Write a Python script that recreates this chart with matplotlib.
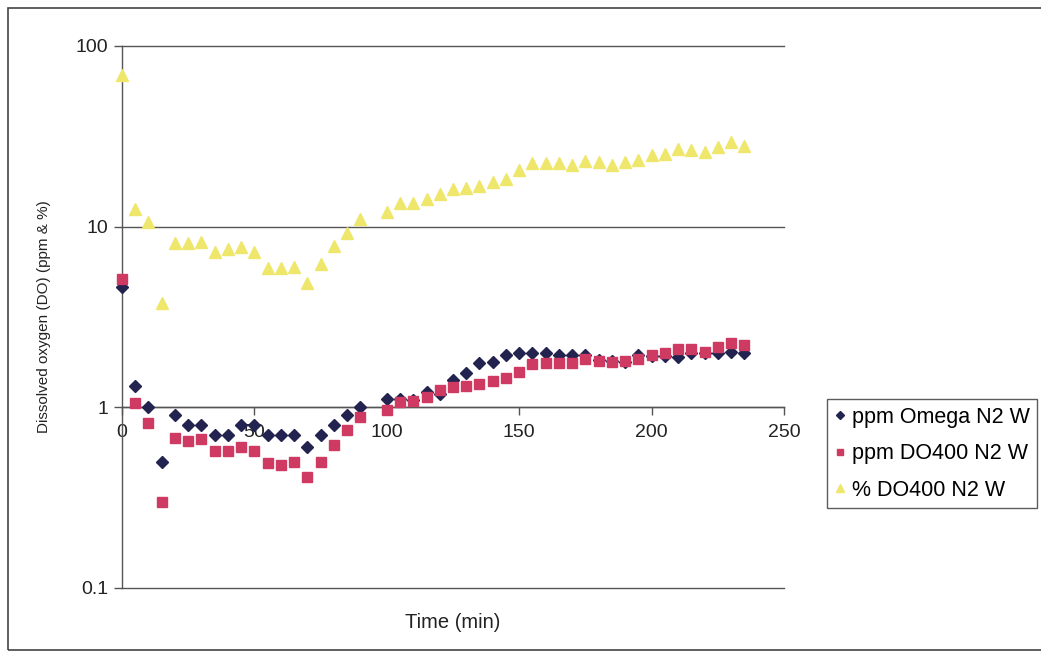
import matplotlib.pyplot as plt
import matplotlib.ticker as mticker
from matplotlib.patches import Rectangle

plt.rcParams['font.family'] = ['Liberation Sans', 'DejaVu Sans']

# time (min) - no reading at 95
time_min = [0, 5, 10, 15, 20, 25, 30, 35, 40, 45, 50, 55, 60, 65, 70, 75, 80, 85, 90,
            100, 105, 110, 115, 120, 125, 130, 135, 140, 145,
            150, 155, 160, 165, 170, 175, 180, 185, 190, 195,
            200, 205, 210, 215, 220, 225, 230, 235]

ppm_omega = [4.64, 1.31, 1.01, 0.50, 0.91, 0.80, 0.80, 0.70, 0.70, 0.80, 0.80, 0.70, 0.70, 0.70, 0.60, 0.70, 0.80, 0.91, 1.01,
             1.11, 1.11, 1.10, 1.22, 1.18, 1.42, 1.55, 1.76, 1.78, 1.94,
             2.01, 2.01, 2.01, 1.96, 1.96, 1.96, 1.82, 1.80, 1.78, 1.96,
             1.92, 1.92, 1.90, 1.99, 1.99, 1.99, 2.02, 1.99]

ppm_do400 = [5.16, 1.06, 0.82, 0.30, 0.68, 0.65, 0.67, 0.57, 0.57, 0.60, 0.57, 0.49, 0.48, 0.50, 0.41, 0.50, 0.62, 0.75, 0.88,
             0.97, 1.07, 1.08, 1.14, 1.24, 1.30, 1.32, 1.35, 1.40, 1.46,
             1.57, 1.73, 1.76, 1.75, 1.76, 1.84, 1.80, 1.78, 1.80, 1.84,
             1.96, 2.00, 2.09, 2.09, 2.03, 2.16, 2.27, 2.20]

pct_do400 = [69, 12.5, 10.6, 3.76, 8.1, 8.1, 8.2, 7.2, 7.5, 7.7, 7.2, 5.9, 5.9, 6.0, 4.9, 6.25, 7.8, 9.2, 11.0,
             12.1, 13.5, 13.5, 14.2, 15.2, 16.1, 16.3, 16.8, 17.7, 18.3,
             20.6, 22.4, 22.4, 22.4, 21.9, 23.1, 22.9, 21.9, 22.9, 23.4,
             24.9, 25.4, 26.8, 26.5, 26.0, 27.7, 29.3, 28.0]

y_ticks = [0.1, 1, 10, 100]
x_ticks = [0, 50, 100, 150, 200, 250]

fig = plt.figure(figsize=(10.41, 6.55), dpi=100)
ax = fig.add_axes([0.1172, 0.1023, 0.6359, 0.8275])

# horizontal lines at each decade
for yv in y_ticks:
    ax.axhline(yv, color='#555555', linewidth=1.0, clip_on=False, zorder=1)

ax.plot(time_min, ppm_omega, linestyle='none', marker='D', ms=6.5, color='#22234f',
        label='ppm Omega N2 W', clip_on=False, zorder=3)
ax.plot(time_min, ppm_do400, linestyle='none', marker='s', ms=7, color='#cf3a63',
        label='ppm DO400 N2 W', clip_on=False, zorder=4)
ax.plot(time_min, pct_do400, linestyle='none', marker='^', ms=8, color='#efe66c',
        label='% DO400 N2 W', clip_on=False, zorder=5)

ax.set_yscale('log')
ax.set_ylim(0.1, 100)
ax.set_xlim(0, 250)
ax.set_xticks(x_ticks)
ax.set_yticks(y_ticks)
ax.yaxis.set_major_formatter(mticker.FuncFormatter(lambda v, p: '%g' % v))
ax.yaxis.set_minor_locator(mticker.NullLocator())

# x axis crosses at y = 1
ax.spines['bottom'].set_position(('data', 1))
ax.spines['top'].set_visible(False)
ax.spines['right'].set_visible(False)
for s in ['bottom', 'left']:
    ax.spines[s].set_color('#555555')
    ax.spines[s].set_linewidth(1.0)
ax.tick_params(axis='both', colors='#555555', labelcolor='#222222', labelsize=14, length=6, width=1)
ax.tick_params(axis='x', pad=6)
ax.tick_params(axis='y', pad=4)

fig.text(0.4352, 0.05, 'Time (min)', ha='center', va='center', fontsize=14.5, color='#222222')
fig.text(0.042, 0.516, 'Dissolved oxygen (DO) (ppm & %)', ha='center', va='center',
         rotation=90, fontsize=11, color='#222222')

leg = fig.legend(loc='upper left', bbox_to_anchor=(0.7944, 0.3908), fontsize=15.5,
                 frameon=True, fancybox=False, handlelength=0.5, handletextpad=0.3,
                 borderpad=0.35, labelspacing=0.72, borderaxespad=0, markerscale=0.7)
leg.get_frame().set_edgecolor('#333333')
leg.get_frame().set_linewidth(1.0)

fig.patches.append(Rectangle((0.008, 0.008), 0.995, 0.98, transform=fig.transFigure,
                             fill=False, edgecolor='#444444', linewidth=1.2))

fig.savefig('out.png', dpi=100)
